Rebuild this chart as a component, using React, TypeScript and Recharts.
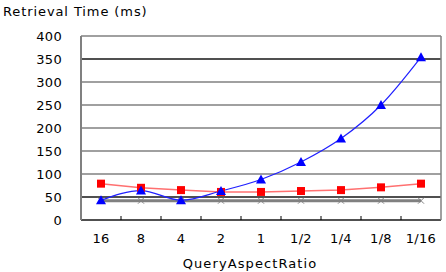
import React from 'react'
import { LineChart, Line, XAxis, YAxis, CartesianGrid, ReferenceLine } from 'recharts'

const ratios = ['16', '8', '4', '2', '1', '1/2', '1/4', '1/8', '1/16']
const squareSeries = [79, 70, 65, 61, 61, 63, 65, 71, 79]
const triangleSeries = [43, 64, 43, 63, 88, 126, 177, 250, 354]
const crossSeries = [42, 42, 42, 42, 42, 42, 42, 42, 42]
const yTicks = [0, 50, 100, 150, 200, 250, 300, 350, 400]

const data = ratios.map((r, i) => ({
  ratio: r,
  sq: squareSeries[i],
  tri: triangleSeries[i],
  cross: crossSeries[i],
}))

const font = 'DejaVu Sans, Arial, sans-serif'
const tickStyle = { fontSize: 13, fill: '#000', fontFamily: font, letterSpacing: 0.3 }

// eslint-disable-next-line @typescript-eslint/no-explicit-any
function SquareDot(p: any) {
  if (p.cx == null) return null
  return <rect x={p.cx - 4} y={p.cy - 4} width={8} height={8} fill="#ff0000" />
}

// eslint-disable-next-line @typescript-eslint/no-explicit-any
function TriangleDot(p: any) {
  if (p.cx == null) return null
  const { cx, cy } = p
  return <polygon points={`${cx},${cy - 5} ${cx + 5},${cy + 4} ${cx - 5},${cy + 4}`} fill="#0000ff" />
}

// eslint-disable-next-line @typescript-eslint/no-explicit-any
function CrossDot(p: any) {
  if (p.cx == null) return null
  const { cx, cy } = p
  return (
    <g stroke="#808080" strokeWidth={1}>
      <line x1={cx - 3} y1={cy - 3} x2={cx + 3} y2={cy + 3} />
      <line x1={cx - 3} y1={cy + 3} x2={cx + 3} y2={cy - 3} />
    </g>
  )
}

// category label plus a small inward tick at the band's right edge (Excel style)
// eslint-disable-next-line @typescript-eslint/no-explicit-any
function RatioTick(p: any) {
  const { x, y, payload, index } = p
  const half = payload?.offset ?? 0
  return (
    <g>
      {index < ratios.length - 1 && (
        <line x1={x + half} x2={x + half} y1={y} y2={y - 4} stroke="#000" strokeWidth={1} />
      )}
      <text x={x} y={y + 14} dy="0.71em" textAnchor="middle" {...tickStyle}>
        {payload.value}
      </text>
    </g>
  )
}

export default function App() {
  return (
    <div style={{ position: 'absolute', left: 0, top: 0, width: 446, height: 272, background: '#fff' }}>
      <div style={{ position: 'absolute', left: 3, top: 4, fontSize: 13, fontFamily: font, letterSpacing: 0.9 }}>
        Retrieval Time (ms)
      </div>
      <LineChart width={446} height={272} data={data} margin={{ top: 36, right: 0, bottom: 0, left: 0 }}>
        <CartesianGrid vertical={false} stroke="#808080" strokeWidth={1.5} />
        <ReferenceLine y={50} stroke="#000" strokeWidth={1.2} />
        <ReferenceLine y={350} stroke="#000" strokeWidth={1.2} />
        <XAxis
          dataKey="ratio"
          scale="band"
          height={52}
          axisLine={{ stroke: '#000', strokeWidth: 1.2 }}
          tickLine={false}
          tickSize={0}
          tickMargin={0}
          interval={0}
          tick={<RatioTick />}
          label={{ value: 'QueryAspectRatio', position: 'insideBottom', offset: 4, dx: -11, style: { fontSize: 13, fontFamily: font, letterSpacing: 1.1, fill: '#000' } }}
        />
        <YAxis
          domain={[0, 400]}
          ticks={yTicks}
          width={81}
          axisLine={{ stroke: '#808080', strokeWidth: 2 }}
          tickLine={false}
          tickSize={0}
          tickMargin={19}
          tick={tickStyle}
        />
        <YAxis yAxisId="r" orientation="right" width={5} tick={false} tickLine={false} axisLine={{ stroke: '#808080', strokeWidth: 1.5 }} />
        <Line dataKey="cross" stroke="#808080" strokeWidth={3} dot={<CrossDot />} isAnimationActive={false} />
        <Line dataKey="sq" stroke="#ff7070" strokeWidth={1.5} dot={<SquareDot />} isAnimationActive={false} />
        <Line type="monotone" dataKey="tri" stroke="#2020ff" strokeWidth={1.2} dot={<TriangleDot />} isAnimationActive={false} />
      </LineChart>
    </div>
  )
}
